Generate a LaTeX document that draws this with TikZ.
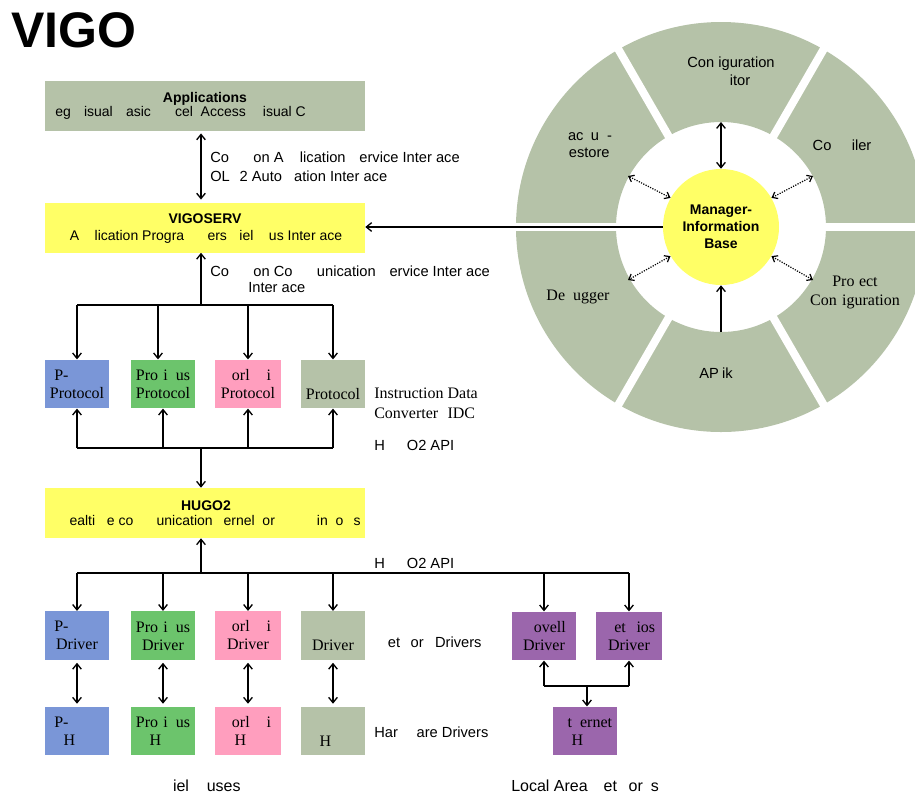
\documentclass[tikz,border=0pt]{standalone}
\usepackage{fontspec}
\setmainfont{Liberation Sans}
\newfontfamily\serf{Liberation Serif}
\usetikzlibrary{arrows.meta,calc}
\newcommand\ph[1]{\phantom{#1}}
\definecolor{ggray}{RGB}{181,194,168}
\definecolor{yel}{RGB}{255,255,102}
\definecolor{bl}{RGB}{122,150,215}
\definecolor{gr}{RGB}{108,196,108}
\definecolor{pk}{RGB}{255,158,190}
\definecolor{pu}{RGB}{155,102,172}
\tikzset{
 ln/.style={line width=1.4pt},
 ar/.style={ln,-{Straight Barb[length=4pt,width=6.5pt,line width=1pt]}},
 dar/.style={ln,{Straight Barb[length=4pt,width=6.5pt,line width=1pt]}-{Straight Barb[length=4pt,width=6.5pt,line width=1pt]}},
 dotar/.style={line width=0.9pt,densely dotted,{Straight Barb[length=3.5pt,width=5.5pt,line width=0.9pt]}-{Straight Barb[length=3.5pt,width=5.5pt,line width=0.9pt]}},
 big/.style={fill=#1,inner sep=0,minimum width=240pt,minimum height=37.5pt},
 sm/.style={fill=#1,inner sep=0,minimum width=48pt,minimum height=36.5pt,align=center,font=\serf\fontsize{12}{13.5}\selectfont},
 lab/.style={anchor=base west,inner sep=0,font=\fontsize{11}{13}\selectfont},
 slab/.style={anchor=base west,inner sep=0,font=\serf\fontsize{12}{13.5}\selectfont},
 bt/.style={anchor=base,inner sep=0,font=\bfseries\fontsize{10.5}{12}\selectfont},
 seg/.style={anchor=base,inner sep=0,font=\fontsize{11}{13}\selectfont},
 sseg/.style={anchor=base,inner sep=0,font=\serf\fontsize{12}{13.5}\selectfont},
}
\begin{document}
\begin{tikzpicture}[x=0.75pt,y=-0.75pt]
\useasboundingbox (0,0) rectangle (915,794);

% title
\node[anchor=base west,inner sep=0,font=\bfseries\fontsize{37.5}{40}\selectfont] (title) at (11,47) {VIGO};

% big boxes
\node[big=ggray] (app) at (205,105.5) {};
\node[big=yel] (vigo) at (205,227.5) {};
\node[big=yel] (hugo) at (205,513) {};
\node[bt] (appt) at (205,102) {Applications};
\node[lab,font=\fontsize{10.5}{12}\selectfont] (appd) at (55,116) {eg \ph{V}isual \ph{B}asic\ph{,} \ph{Ex}cel\ph{,} Access\ph{,} \ph{V}isual C};
\node[bt] (vigot) at (205,223) {VIGOSERV};
\node[anchor=base,inner sep=0,font=\fontsize{10.5}{12}\selectfont] (vigod) at (206,240) {A\ph{pp}lication Progra\ph{mm}ers \ph{F}iel\ph{db}us Inter\ph{f}ace};
\node[bt] (hugot) at (206,510) {HUGO2};
\node[anchor=base,inner sep=0,font=\fontsize{10.5}{12}\selectfont] (hugod) at (210,525) {\ph{R}ealti\ph{m}e co\ph{mm}unication \ph{k}ernel \ph{f}or \ph{MS W}in\ph{d}o\ph{w}s};

% small boxes
\node[sm=bl] (p1) at (77,384) {P-\ph{NET}\\Protocol};
\node[sm=gr] (p2) at (163,384) {Pro\ph{f}i\ph{b}us\\Protocol};
\node[sm=pk,minimum width=49.5pt] (p3) at (248,384) {\ph{W}orl\ph{dF}i\ph{p}\\Protocol};
\node[sm=ggray] (p4) at (333,384) {\strut\\Protocol};
\node[sm=bl] (d1) at (77,635.5) {P-\ph{NET}\\Driver};
\node[sm=gr] (d2) at (163,635.5) {Pro\ph{f}i\ph{b}us\\Driver};
\node[sm=pk,minimum width=49.5pt] (d3) at (248,635.5) {\ph{W}orl\ph{dF}i\ph{p}\\Driver};
\node[sm=ggray] (d4) at (333,635.5) {\strut\\Driver};
\node[sm=bl] (h1) at (77,731) {P-\ph{NET}\\H\ph{W}};
\node[sm=gr] (h2) at (163,731) {Pro\ph{f}i\ph{b}us\\H\ph{W}};
\node[sm=pk,minimum width=49.5pt] (h3) at (248,731) {\ph{W}orl\ph{dF}i\ph{p}\\H\ph{W}};
\node[sm=ggray] (h4) at (333,731) {\strut\\H\ph{W}};
\node[sm=pu] (nov) at (544,636) {\ph{N}ovell\\Driver};
\node[sm=pu,minimum width=49.5pt] (nbi) at (629,636) {\ph{N}et\ph{B}ios\\Driver};
\node[sm=pu] (eth) at (585,731) {\ph{E}t\ph{h}ernet\\H\ph{W}};

% side labels
\node[lab] (l1) at (210,162) {Co\ph{mm}on A\ph{pp}lication \ph{S}ervice Inter\ph{f}ace};
\node[lab] (l2) at (210,181) {OL\ph{E}2 Auto\ph{m}ation Inter\ph{f}ace};
\node[lab] (l3) at (210,276) {Co\ph{mm}on Co\ph{mm}unication \ph{S}ervice Inter\ph{f}ace};
\node[lab] (l4) at (248,292) {Inter\ph{f}ace};
\node[slab] (l5) at (374,398) {Instruction Data};
\node[slab] (l6) at (374,418) {Converter \ph{(}IDC\ph{)}};
\node[lab] (l7) at (374,450) {H\ph{UG}O2 API};
\node[lab] (l8) at (374,568) {H\ph{UG}O2 API};
\node[lab] (l9) at (377,647) {\ph{N}et\ph{w}or\ph{k} Drivers};
\node[lab] (l10) at (374,737) {Har\ph{dw}are Drivers};
\node[lab,font=\fontsize{12}{14}\selectfont] (l11) at (163,791) {\ph{F}iel\ph{db}uses};
\node[lab,font=\fontsize{12}{14}\selectfont] (l12) at (511,791) {Local Area \ph{N}et\ph{w}or\ph{k}s};

% connectors, left column
\coordinate (ax) at (201,0);
\draw[dar,shorten <=2pt,shorten >=2pt] (app.south -| ax) -- (vigo.north -| ax);
\coordinate (b1) at (201,305);
\draw[ar] (b1) -- (vigo.south -| b1);
\draw[ln] (p1.north |- b1) -- (p4.north |- b1);
\foreach \n in {p1,p3,p4} \draw[ar] (\n.north |- b1) -- (\n.north);
\draw[ar] ([xshift=-3.75pt]p2.north |- b1) -- ([xshift=-3.75pt]p2.north);
\coordinate (b2) at (201,448);
\draw[ln] (p1.south |- b2) -- (p4.south |- b2);
\foreach \n in {p1,p2,p3,p4} \draw[ar] (\n.south |- b2) -- (\n.south);
\draw[ar] (b2) -- (hugo.north -| b2);
\coordinate (b3) at (201,573);
\draw[ar] (b3) -- (hugo.south -| b3);
\draw[ln] (d1.north |- b3) -- (nbi.north |- b3);
\foreach \n in {d1,d2,d3,d4,nov,nbi} \draw[ar] (\n.north |- b3) -- (\n.north);
\foreach \i in {1,2,3,4} \draw[dar,shorten <=2pt,shorten >=2pt] (d\i.south) -- (h\i.north);
\coordinate (b4) at (587,686);
\draw[ln] (nov.south |- b4) -- (nbi.south |- b4);
\draw[ar] (nov.south |- b4) -- (nov.south);
\draw[ar] (nbi.south |- b4) -- (nbi.south);
\draw[ar] (b4) -- (eth.north -| b4);

% ring
\coordinate (c) at (721,227);
\fill[ggray,even odd rule] (c) circle[radius=153.75pt] (c) circle[radius=78.75pt];
\foreach \a in {0,60,...,300} \draw[white,line width=6pt] ($(c)+(\a:100)$) -- ($(c)+(\a:215)$);
\node[circle,fill=yel,minimum size=87pt,inner sep=0,align=center,font=\bfseries\fontsize{10.5}{12.75}\selectfont] (mib) at (c) {Manager-\\Information\\Base};

\node[seg] (sg1a) at (731,67) {Con\ph{f}iguration};
\node[seg] (sg1b) at (731,85) {\ph{Ed}itor};
\node[seg] (sg2) at (842,150) {Co\ph{mp}iler};
\node[seg,anchor=base west] (sg3a) at (558,140) {\ph{B}ac\ph{k}u\ph{p}-};
\node[seg,anchor=base west] (sg3b) at (558,157) {\ph{R}estore};
\node[sseg] (sg4) at (578,300) {De\ph{b}ugger};
\node[seg] (sg5) at (716,378) {AP\ph{l}ik};
\node[sseg] (sg6a) at (855,286) {Pro\ph{j}ect};
\node[sseg] (sg6b) at (855,305) {Con\ph{f}iguration};

\coordinate (s90) at (721,122);
\coordinate (s270) at (721,332);
\coordinate (s150) at (628,176);
\coordinate (s30) at (813,176);
\coordinate (s210) at (628,280);
\coordinate (s330) at (813,280);
\draw[dar] (mib.north) -- (s90);
\draw[ar] (s270) -- (mib.south);
\draw[dotar] (mib.150) -- (s150);
\draw[dotar] (mib.30) -- (s30);
\draw[dotar] (mib.210) -- (s210);
\draw[dotar] (mib.330) -- (s330);
\draw[ar] (mib.west) -- (mib.west -| vigo.east);
\end{tikzpicture}
\end{document}
